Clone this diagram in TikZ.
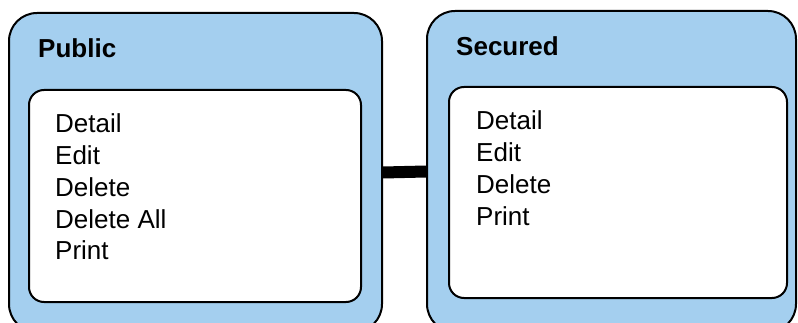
\documentclass[tikz,border=0pt]{standalone}
\usepackage{fontspec}
\setmainfont{Liberation Sans}
\definecolor{boxblue}{RGB}{164,207,239}

\begin{document}
\begin{tikzpicture}[x=1pt, y=-1pt, font=\fontsize{26}{31}\selectfont,
      outerbox/.style={rectangle, rounded corners=28pt, draw, line width=2pt, fill=boxblue, inner sep=0pt},
      innerbox/.style={rectangle, rounded corners=15pt, draw, line width=2pt, fill=white, inner sep=0pt},
      grouptitle/.style={anchor=base west, inner sep=0pt, font=\fontsize{26}{31}\selectfont\bfseries},
      item/.style={anchor=base west, inner sep=0pt}]
    \useasboundingbox (0,0) rectangle (798,323);
    \clip (0,0) rectangle (798,323);
    % outer groups
    \node[outerbox, minimum width=373pt, minimum height=319pt] (pub) at (195.5,172.5) {};
    \node[outerbox, minimum width=369pt, minimum height=321pt] (sec) at (611.5,171.5) {};
    \node[grouptitle] (pubtitle) at (38,58) {Public};
    \node[grouptitle] (sectitle) at (456,56) {Secured};
    % inner lists
    \node[innerbox, minimum width=332pt, minimum height=212pt] (publist) at (195,196) {};
    \node[innerbox, minimum width=338pt, minimum height=211pt] (seclist) at (618,192.5) {};
    \foreach \t [count=\i] in {Detail,Edit,Delete,Delete All,Print}
      \node[item] (pubitem\i) at (55,{133+31.7*(\i-1)}) {\t};
    \foreach \t [count=\i] in {Detail,Edit,Delete,Print}
      \node[item] (secitem\i) at (476,{130+31.7*(\i-1)}) {\t};
    % link
    \draw[line width=12pt] (pub.east) -- (sec.west);
  \end{tikzpicture}
\end{document}
